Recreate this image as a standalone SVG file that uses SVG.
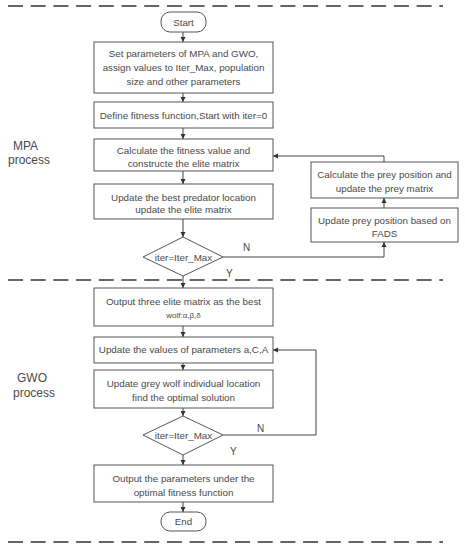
<svg xmlns="http://www.w3.org/2000/svg" width="465" height="550" viewBox="0 0 465 550">
<defs>
<marker id="ah" markerWidth="6" markerHeight="6" refX="5" refY="3" orient="auto" markerUnits="userSpaceOnUse">
<path d="M0,0.5 L5,3 L0,5.5 Z" fill="#333"/>
</marker>
<style>
.box{fill:#fff;stroke:#555;stroke-width:1}
.t{font-family:"Liberation Sans",Arial,sans-serif;font-size:9.8px;fill:#4a4a4a;text-anchor:middle}
.lbl{font-family:"Liberation Sans",Arial,sans-serif;font-size:12px;fill:#4a4a4a}
.yn{font-family:"Liberation Sans",Arial,sans-serif;font-size:10px;fill:#4a4a4a}
.c{fill:none;stroke:#444;stroke-width:1}
.dash{stroke:#333;stroke-width:1.6;stroke-dasharray:15 7.7}
</style>
</defs>
<rect width="465" height="550" fill="#fff"/>
<line class="dash" x1="8" y1="6" x2="443" y2="6"/>
<line class="dash" x1="8" y1="280" x2="443" y2="280"/>
<line class="dash" x1="8" y1="542" x2="443" y2="542"/>

<g id="labels">
<text class="lbl" x="13" y="150">MPA</text>
<text class="lbl" x="8" y="164">process</text>
<text class="lbl" x="17" y="382">GWO</text>
<text class="lbl" x="13" y="397">process</text>
</g>

<g id="connectors">
<line class="c" x1="183" y1="32" x2="183" y2="42" marker-end="url(#ah)"/>
<line class="c" x1="183" y1="93" x2="183" y2="102" marker-end="url(#ah)"/>
<line class="c" x1="183" y1="128" x2="183" y2="139" marker-end="url(#ah)"/>
<line class="c" x1="183" y1="171" x2="183" y2="184" marker-end="url(#ah)"/>
<line class="c" x1="183" y1="219" x2="183" y2="237" marker-end="url(#ah)"/>
<polyline class="c" points="223,257 384,257 384,242" marker-end="url(#ah)"/>
<line class="c" x1="384" y1="208" x2="384" y2="198" marker-end="url(#ah)"/>
<polyline class="c" points="384,162 384,156 273,156" marker-end="url(#ah)"/>
<line class="c" x1="183" y1="276" x2="183" y2="288" marker-end="url(#ah)"/>
<line class="c" x1="183" y1="326" x2="183" y2="337" marker-end="url(#ah)"/>
<line class="c" x1="183" y1="363" x2="183" y2="370" marker-end="url(#ah)"/>
<line class="c" x1="183" y1="408" x2="183" y2="416" marker-end="url(#ah)"/>
<polyline class="c" points="223,435 316,435 316,350 273,350" marker-end="url(#ah)"/>
<line class="c" x1="183" y1="455" x2="183" y2="465" marker-end="url(#ah)"/>
<line class="c" x1="183" y1="502" x2="183" y2="512" marker-end="url(#ah)"/>
<text class="yn" x="243" y="251">N</text>
<text class="yn" x="226" y="277">Y</text>
<text class="yn" x="257" y="432">N</text>
<text class="yn" x="230" y="455">Y</text>
</g>

<g id="start">
<rect class="box" x="161" y="12" width="45" height="20" rx="9"/>
<text class="t" x="183.5" y="25.5">Start</text>
</g>
<g id="setparams">
<rect class="box" x="94" y="42" width="179" height="51"/>
<text class="t" x="183.5" y="56.5">Set parameters of MPA and GWO,</text>
<text class="t" x="183.5" y="71">assign values to Iter_Max, population</text>
<text class="t" x="183.5" y="85">size and other parameters</text>
</g>
<g id="define">
<rect class="box" x="94" y="102" width="179" height="26"/>
<text class="t" x="183.5" y="118.5">Define fitness function,Start with iter=0</text>
</g>
<g id="calcfit">
<rect class="box" x="94" y="139" width="179" height="32"/>
<text class="t" x="183.5" y="153.5">Calculate the fitness value and</text>
<text class="t" x="183.5" y="166.5">constructe the elite matrix</text>
</g>
<g id="updbest">
<rect class="box" x="94" y="184" width="179" height="35"/>
<text class="t" x="183.5" y="200.5">Update the best predator location</text>
<text class="t" x="183.5" y="213">update the elite matrix</text>
</g>
<g id="dec1">
<polygon class="box" points="183,237 223,257 183,276 143,257"/>
<text class="t" x="183.5" y="260.5">iter=Iter_Max</text>
</g>
<g id="calcprey">
<rect class="box" x="311" y="162" width="147" height="36"/>
<text class="t" x="384.5" y="177.5">Calculate the prey position and</text>
<text class="t" x="384.5" y="191.5">update the prey matrix</text>
</g>
<g id="updprey">
<rect class="box" x="311" y="208" width="147" height="34"/>
<text class="t" x="384.5" y="223.5">Update prey position based on</text>
<text class="t" x="384.5" y="237">FADS</text>
</g>
<g id="output3">
<rect class="box" x="94" y="288" width="179" height="38"/>
<text class="t" x="183.5" y="305">Output three elite matrix as the best</text>
<text class="t" x="183.5" y="318" style="font-size:8px">wolf:α,β,δ</text>
</g>
<g id="updparams">
<rect class="box" x="94" y="337" width="179" height="26"/>
<text class="t" x="183.5" y="353">Update the values of parameters a,C,A</text>
</g>
<g id="updwolf">
<rect class="box" x="94" y="370" width="179" height="38"/>
<text class="t" x="183.5" y="386.5">Update grey wolf individual location</text>
<text class="t" x="183.5" y="400.5">find the optimal solution</text>
</g>
<g id="dec2">
<polygon class="box" points="183,416 223,435 183,455 143,435"/>
<text class="t" x="183.5" y="438.5">iter=Iter_Max</text>
</g>
<g id="outparams">
<rect class="box" x="94" y="465" width="179" height="37"/>
<text class="t" x="183.5" y="481.5">Output the parameters under the</text>
<text class="t" x="183.5" y="495.5">optimal fitness function</text>
</g>
<g id="end">
<rect class="box" x="161" y="512" width="45" height="19" rx="9"/>
<text class="t" x="183.5" y="525">End</text>
</g>
</svg>
